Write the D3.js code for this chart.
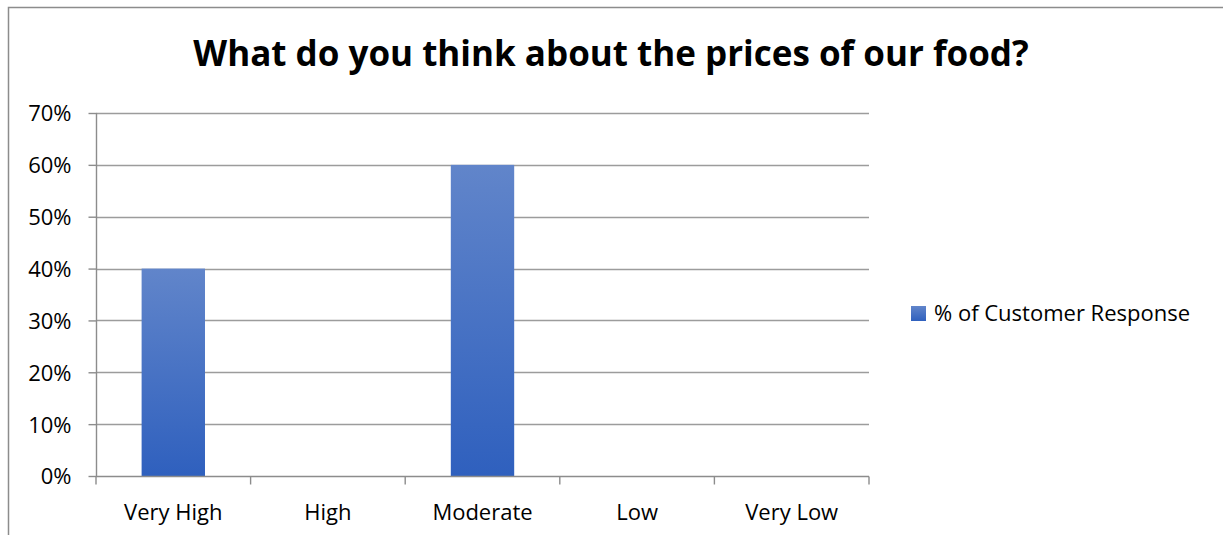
<!DOCTYPE html>
<html><head><meta charset="utf-8">
<script src="https://cdn.jsdelivr.net/npm/d3@7"></script>
<style>body{margin:0;background:#fff;} svg{display:block;} text{font-family:"Open Sans",sans-serif;}</style>
</head><body>
<script>
const categories = ["Very High", "High", "Moderate", "Low", "Very Low"];
const values = [0.40, 0, 0.60, 0, 0];
const seriesName = "% of Customer Response";
const yTicks = [0, 0.1, 0.2, 0.3, 0.4, 0.5, 0.6, 0.7];
const title = "What do you think about the prices of our food?";

(function(){
const W = 1223, H = 535;
const FS = 22;
const svg = d3.select("body").append("svg").attr("width", W).attr("height", H);

const defs = svg.append("defs");
const grad = defs.append("linearGradient").attr("id","barGrad").attr("x1",0).attr("y1",0).attr("x2",0).attr("y2",1);
grad.append("stop").attr("offset","0%").attr("stop-color","#6185ca");
grad.append("stop").attr("offset","100%").attr("stop-color","#2f60be");

// outer border
svg.append("rect").attr("x",8.5).attr("y",7.5).attr("width",W).attr("height",H)
  .attr("fill","none").attr("stroke","#8c8c8c").attr("stroke-width",1.5);

const pl = 96, pr = 869, pt = 113, pb = 476;
const x = d3.scaleBand().domain(categories).range([pl, pr]).paddingInner(0.59).paddingOuter(0.295);
const xb = d3.scaleBand().domain(categories).range([pl, pr]);
const y = d3.scaleLinear().domain([0, 0.7]).range([pb, pt]);

// gridlines
svg.append("g").selectAll("line").data(yTicks.slice(1)).join("line")
  .attr("x1", pl).attr("x2", pr)
  .attr("y1", d => Math.round(y(d))+0.5).attr("y2", d => Math.round(y(d))+0.5)
  .attr("stroke","#9c9c9c").attr("stroke-width",1.4);

// bars
svg.append("g").selectAll("rect").data(values.map((v,i)=>({c:categories[i], v}))).join("rect")
  .attr("x", d => x(d.c)).attr("width", x.bandwidth())
  .attr("y", d => y(d.v)).attr("height", d => y(0) - y(d.v))
  .attr("fill","url(#barGrad)");

// y axis
const yAxis = d3.axisLeft(y).tickValues(yTicks).tickFormat(d3.format(".0%")).tickSize(8).tickPadding(17);
const gy = svg.append("g").attr("transform",`translate(${pl+0.5},0)`).call(yAxis);
gy.select(".domain").attr("stroke","#8c8c8c").attr("stroke-width",1.4).attr("d",`M0,${pt}V${pb}`);
gy.selectAll(".tick line").attr("stroke","#8c8c8c").attr("stroke-width",1.4);
gy.selectAll(".tick text").attr("font-size",FS).attr("fill","#000").attr("font-family","Open Sans").attr("dy","0.36em");

// x axis
const gx = svg.append("g").attr("transform",`translate(0,${pb+0.5})`);
gx.append("line").attr("x1",pl).attr("x2",pr).attr("stroke","#8c8c8c").attr("stroke-width",1.4);
const bounds = categories.map(c => xb(c)).concat([pr]);
gx.selectAll("line.tk").data(bounds).join("line").attr("class","tk")
  .attr("x1", d => d).attr("x2", d => d).attr("y1",0).attr("y2",8)
  .attr("stroke","#8c8c8c").attr("stroke-width",1.4);
gx.selectAll("text").data(categories).join("text")
  .attr("x", d => xb(d) + xb.bandwidth()/2).attr("y", 43)
  .attr("text-anchor","middle").attr("font-size",FS).attr("fill","#000").text(d => d);

// title
svg.append("text").attr("x", 611).attr("y", 66).attr("text-anchor","middle")
  .attr("font-size",35).attr("font-weight","bold").attr("fill","#000").text(title);

// legend
const lg = svg.append("g").attr("transform","translate(911,306)");
lg.append("rect").attr("width",15).attr("height",15).attr("fill","url(#barGrad)");
lg.append("text").attr("x",23).attr("y",15).attr("font-size",FS).attr("fill","#000").text(seriesName);
})();
</script>
</body></html>
